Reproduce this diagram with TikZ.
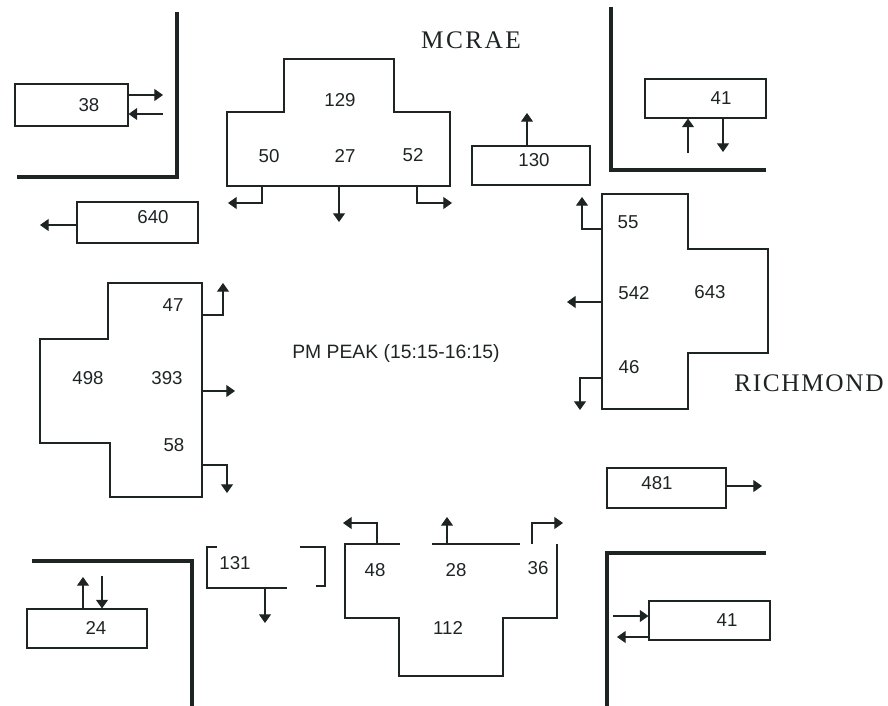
\documentclass[tikz,border=0pt]{standalone}
\usepackage{fontspec}
\setmainfont{Liberation Sans}
\newfontfamily\streetfont{Liberation Serif}
\usetikzlibrary{arrows.meta}
\definecolor{ink}{HTML}{1E2424}
\tikzset{
  lane/.style={draw=ink,line width=0.8pt},
  curb/.style={draw=ink,line width=2.4pt,line join=miter},
  flow/.style={draw=ink,line width=0.8pt,-{Triangle[width=9pt,length=6.5pt]}},
  counter/.style 2 args={draw=ink,line width=0.8pt,minimum width=#1*0.75pt,minimum height=#2*0.75pt,inner sep=0pt},
  num/.style={font=\fontsize{14}{16}\selectfont,text=ink,inner sep=0pt},
  street/.style={font=\streetfont\fontsize{19}{22}\selectfont,text=ink,inner sep=0pt},
  title/.style={font=\fontsize{14.5}{17}\selectfont,text=ink,inner sep=0pt}
}
\begin{document}
\begin{tikzpicture}[x=0.75pt,y=-0.75pt]
\useasboundingbox (0,0) rectangle (888,706);

% curbs
\draw[curb] (177,12) -- (177,177) -- (17,177);
\draw[curb] (611,7) -- (611,170) -- (766,170);
\draw[curb] (32,561) -- (192,561) -- (192,706);
\draw[curb] (766,553) -- (607,553) -- (607,706);

% street names and title
\node[street] (mcrae) at (471,40) {M\kern1.8pt C\kern1.8pt R\kern1.8pt A\kern1.8pt E};
\node[street] (richmond) at (809,383) {R\kern1.2pt I\kern1.2pt C\kern1.2pt H\kern1.2pt M\kern1.2pt O\kern1.2pt N\kern1.2pt D};
\node[title] (peak) at (396,353) {PM PEAK (15:15-16:15)};

% ---------- boxes ----------
\node[counter={113}{42}] (b38) at (71.5,105) {};
\node[num] (t38) at (89,105) {38};
\draw[flow] (b38.east |- 0,95) -- (163,95);
\coordinate (i38) at (163,114);
\draw[flow] (i38) -- (b38.east |- i38);

\node[counter={121}{41}] (b640) at (137.5,222.5) {};
\node[num] (t640) at (153,217) {640};
\coordinate (o640) at (40,225);
\draw[flow] (b640.west |- o640) -- (o640);

\node[counter={118}{39}] (b130) at (531,165.5) {};
\node[num] (t130) at (534,160) {130};
\coordinate (o130) at (527,113);
\draw[flow] (b130.north -| o130) -- (o130);

\node[counter={121}{39}] (b41n) at (705.5,98.5) {};
\node[num] (t41n) at (721,98) {41};
\coordinate (i41n) at (688,153);
\draw[flow] (i41n) -- (b41n.south -| i41n);
\coordinate (o41n) at (723,152);
\draw[flow] (b41n.south -| o41n) -- (o41n);

\node[counter={119}{40}] (b481) at (666.5,488) {};
\node[num] (t481) at (657,483) {481};
\coordinate (o481) at (762,486);
\draw[flow] (b481.east |- o481) -- (o481);

\node[counter={121}{39}] (b41s) at (709.5,620.5) {};
\node[num] (t41s) at (727,620) {41};
\coordinate (i41s) at (613,616);
\draw[flow] (i41s) -- (b41s.west |- i41s);
\coordinate (o41s) at (617,637);
\draw[flow] (b41s.west |- o41s) -- (o41s);

\node[counter={120}{39}] (b24) at (87,628.5) {};
\node[num] (t24) at (96,628) {24};
\coordinate (o24) at (83,577);
\draw[flow] (b24.north -| o24) -- (o24);
\coordinate (i24) at (102,576);
\draw[flow] (i24) -- (b24.north -| i24);

% open box 131
\draw[lane] (217,547) -- (207,547) -- (207,588) -- (287,588);
\draw[lane] (300,547) -- (325,547) -- (325,586) -- (316,586);
\node[num] (t131) at (235,563) {131};
\coordinate (s131) at (265,588);
\coordinate (o131) at (265,623);
\draw[flow] (s131) -- (o131);

% ---------- north approach (MCRAE) ----------
\draw[lane] (227,186) -- (227,112) -- (284,112) -- (284,59) -- (394,59)
  -- (394,112) -- (450,112) -- (450,186) -- cycle;
\node[num] (n129) at (340,100) {129};
\node[num] (n50) at (269,156) {50};
\node[num] (n27) at (345,156) {27};
\node[num] (n52) at (413,155) {52};
\coordinate (nL) at (262,186); \coordinate (nT) at (339,186); \coordinate (nR) at (417,186);
\draw[flow] (nL) -- (262,203) -- (228,203);
\draw[flow] (nT) -- (339,222);
\draw[flow] (nR) -- (417,203) -- (452,203);

% ---------- east approach (RICHMOND) ----------
\draw[lane] (602,194) -- (688,194) -- (688,249) -- (768,249) -- (768,353)
  -- (688,353) -- (688,409) -- (602,409) -- cycle;
\node[num] (e55) at (628,222) {55};
\node[num] (e542) at (634,293) {542};
\node[num] (e643) at (710,292) {643};
\node[num] (e46) at (629,367) {46};
\coordinate (eR) at (602,229); \coordinate (eT) at (602,302); \coordinate (eL) at (602,378);
\draw[flow] (eR) -- (582,229) -- (582,197);
\draw[flow] (eT) -- (567,302);
\draw[flow] (eL) -- (580,378) -- (580,410);

% ---------- west approach ----------
\draw[lane] (202,283) -- (108,283) -- (108,339) -- (40,339) -- (40,443)
  -- (110,443) -- (110,497) -- (202,497) -- cycle;
\node[num] (w47) at (173,305) {47};
\node[num] (w498) at (88,378) {498};
\node[num] (w393) at (167,378) {393};
\node[num] (w58) at (174,445) {58};
\coordinate (wL) at (202,315); \coordinate (wT) at (202,391); \coordinate (wR) at (202,465);
\draw[flow] (wL) -- (223,315) -- (223,283);
\draw[flow] (wT) -- (235,391);
\draw[flow] (wR) -- (227,465) -- (227,493);

% ---------- south approach ----------
\draw[lane] (400,544) -- (345,544) -- (345,618) -- (399,618) -- (399,676)
  -- (503,676) -- (503,618) -- (557,618) -- (557,544);
\draw[lane] (432,544) -- (520,544);
\node[num] (s48) at (375,570) {48};
\node[num] (s28) at (456,570) {28};
\node[num] (s36) at (538,568) {36};
\node[num] (s112) at (448,628) {112};
\coordinate (sR) at (377,544); \coordinate (sT) at (447,544); \coordinate (sL) at (532,544);
\draw[flow] (sR) -- (377,523) -- (343,523);
\draw[flow] (sT) -- (447,517);
\draw[flow] (sL) -- (532,523) -- (563,523);
\end{tikzpicture}
\end{document}
